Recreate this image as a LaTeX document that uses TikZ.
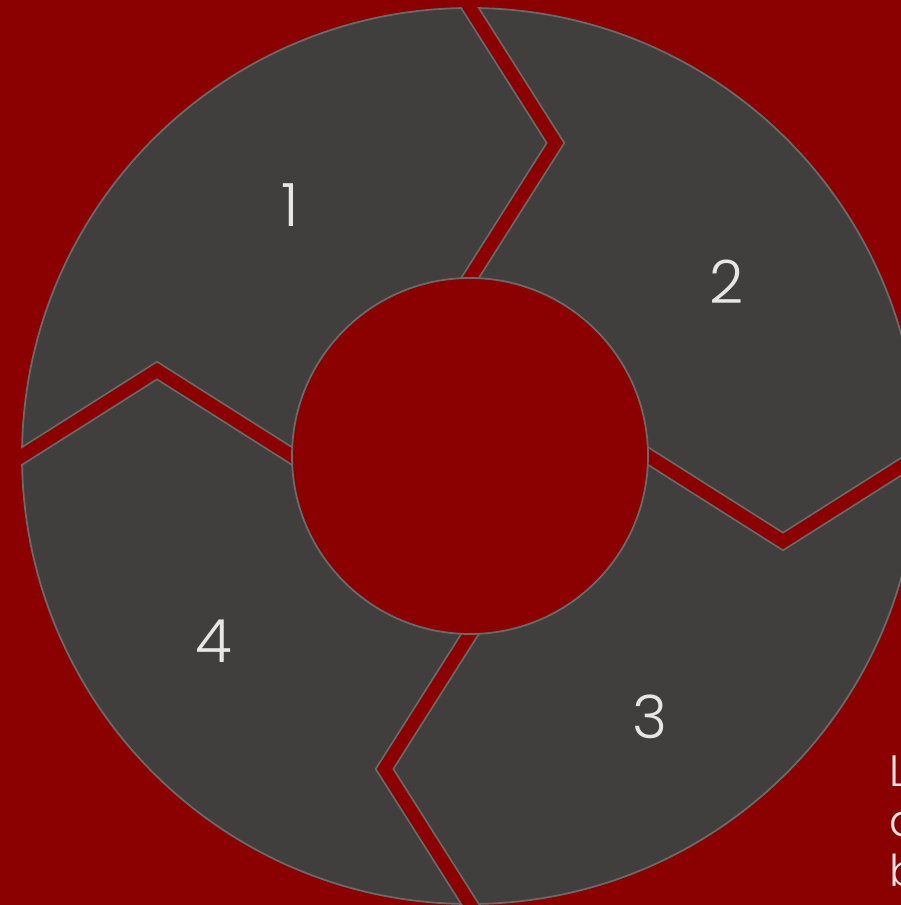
\documentclass[tikz,border=0pt]{standalone}
\usepackage{fontspec}
\setmainfont{Poppins}[UprightFont=* Light]
\usetikzlibrary{positioning}
\definecolor{bgred}{HTML}{8B0000}
\definecolor{ringfill}{HTML}{403F3E}
\definecolor{ringedge}{HTML}{6A6A6A}
\definecolor{numtxt}{HTML}{E6E6E6}

\begin{document}
\begin{tikzpicture}[x=0.02cm, y=0.02cm,
  seg/.style={fill=ringfill, draw=ringedge, line width=1pt},
  gap/.style={draw=ringedge, line width=1pt, double=bgred,
              double distance=7.4pt, line join=miter},
  num/.style={font=\fontsize{34}{40}\selectfont, text=numtxt, inner sep=0pt}]
\fill[bgred] (-470,-449) rectangle (431,456);
\useasboundingbox (-470,-449) rectangle (431,456);
\draw[seg] (0,0) circle (448);
\begin{scope}
\clip (0,0) circle (448.9);
\foreach \a in {0,90,180,270}
  \draw[gap, rotate=-\a] (-12.7,468) -- (85.5,313) -- (-12.7,158);
\end{scope}
\filldraw[fill=bgred, draw=ringedge, line width=1pt] (0,0) circle (178);
\node[num] (n1) at (-180,251) {1};
\node[num] (n2) at (257,174) {2};
\node[num] (n3) at (180,-261) {3};
\node[num] (n4) at (-256,-185) {4};
\node[anchor=north west, align=left, inner sep=0pt, text=numtxt,
      font=\fontsize{25}{28.5}\selectfont] (side) at (419,-299) {L\\a\\b};
\end{tikzpicture}
\end{document}
